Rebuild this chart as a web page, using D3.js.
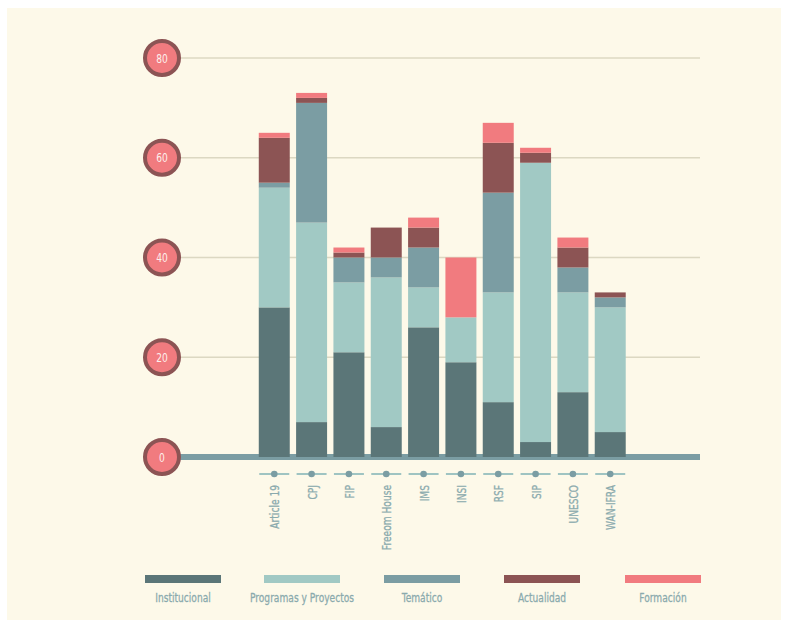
<html>
<head>
<style>
    body { margin: 0; background: #ffffff; }
    svg { display: block; font-family: 'DejaVu Sans', sans-serif; }
</style>
</head>
<body>
<svg width="788" height="623"></svg>
<script src="https://cdn.jsdelivr.net/npm/d3@7"></script>
<script>

    // data
    let orgs = ["Article 19", "CPJ", "FIP", "Freeom House", "IMS", "INSI", "RSF", "SIP", "UNESCO", "WAN-IFRA"]
    let seriesNames = ["Institucional", "Programas y Proyectos", "Temático", "Actualidad", "Formación"]
    let institucional = [30, 7, 21, 6, 26, 19, 11, 3, 13, 5]
    let programas     = [24, 40, 14, 30, 8, 9, 22, 56, 20, 25]
    let tematico      = [1, 24, 5, 4, 8, 0, 20, 0, 5, 2]
    let actualidad    = [9, 1, 1, 6, 4, 0, 10, 2, 4, 1]
    let formacion     = [1, 1, 1, 0, 2, 12, 4, 1, 2, 0]
    let yTicks = [0, 20, 40, 60, 80]

    let colors = ["#5b7678", "#a1c9c4", "#7b9da3", "#8c5454", "#f17b7f"]
    let labelColor = "#8aaaad"

    let rows = orgs.map((o, i) => ({
        org: o,
        "Institucional": institucional[i],
        "Programas y Proyectos": programas[i],
        "Temático": tematico[i],
        "Actualidad": actualidad[i],
        "Formación": formacion[i]
    }))

    let svg = d3.select("svg")

    svg.append("rect")
        .attr("x", 7).attr("y", 8)
        .attr("width", 774).attr("height", 612)
        .style("fill", "#fdf9e9")

    let x = d3.scaleBand()
        .domain(orgs)
        .range([255.6, 628.9])
        .paddingInner(0.17)
        .paddingOuter(0.085)

    let y = d3.scaleLinear()
        .domain([0, 80])
        .range([457, 58])

    // gridlines
    svg.append("g")
        .selectAll("line")
        .data(yTicks.filter(d => d > 0))
        .join("line")
        .attr("x1", 175)
        .attr("x2", 700)
        .attr("y1", d => y(d))
        .attr("y2", d => y(d))
        .style("stroke", "#dcd8c2")
        .style("stroke-width", 1.5)

    // zero baseline
    svg.append("line")
        .attr("x1", 175).attr("x2", 700)
        .attr("y1", y(0)).attr("y2", y(0))
        .style("stroke", "#7b9da3")
        .style("stroke-width", 6)

    let stacked = d3.stack().keys(seriesNames)(rows)

    svg.append("g")
        .selectAll("g")
        .data(stacked)
        .join("g")
        .style("fill", (d, i) => colors[i])
        .selectAll("rect")
        .data(d => d)
        .join("rect")
        .attr("x", d => x(d.data.org))
        .attr("width", x.bandwidth())
        .attr("y", d => y(d[1]))
        .attr("height", d => y(d[0]) - y(d[1]))

    // y axis circles
    let yAx = svg.append("g")
        .selectAll("g")
        .data(yTicks)
        .join("g")
        .attr("transform", d => `translate(162, ${y(d)})`)

    yAx.append("circle")
        .attr("r", 17)
        .style("fill", "#f17b7f")
        .style("stroke", "#8c5454")
        .style("stroke-width", 4)

    yAx.append("text")
        .attr("text-anchor", "middle")
        .attr("dy", "0.36em")
        .attr("transform", "scale(0.7, 1)")
        .style("fill", "#fdf0ec")
        .style("font-size", "13px")
        .text(d => d)

    // x axis markers and labels
    let xAx = svg.append("g")
        .selectAll("g")
        .data(orgs)
        .join("g")
        .attr("transform", d => `translate(${x(d) + x.bandwidth() / 2}, 474)`)

    xAx.append("line")
        .attr("x1", -15).attr("x2", 15)
        .style("stroke", "#9fc4c2")
        .style("stroke-width", 2)

    xAx.append("circle")
        .attr("r", 3.3)
        .style("fill", "#7b9da3")

    xAx.append("text")
        .attr("transform", "translate(5, 11) rotate(-90) scale(0.7, 1)")
        .attr("text-anchor", "end")
        .style("fill", labelColor)
        .style("font-size", "13px")
        .style("stroke", labelColor)
        .style("stroke-width", 0.3)
        .text(d => d)

    // legend
    let legendX = [145, 264, 384, 504, 625]
    let legend = svg.append("g")
        .selectAll("g")
        .data(seriesNames)
        .join("g")
        .attr("transform", (d, i) => `translate(${legendX[i]}, 575)`)

    legend.append("rect")
        .attr("width", 76)
        .attr("height", 8)
        .style("fill", (d, i) => colors[i])

    legend.append("text")
        .attr("transform", "translate(38, 27) scale(0.7, 1)")
        .attr("text-anchor", "middle")
        .style("fill", labelColor)
        .style("font-size", "13px")
        .style("stroke", labelColor)
        .style("stroke-width", 0.3)
        .text(d => d)

</script>
</body>
</html>
